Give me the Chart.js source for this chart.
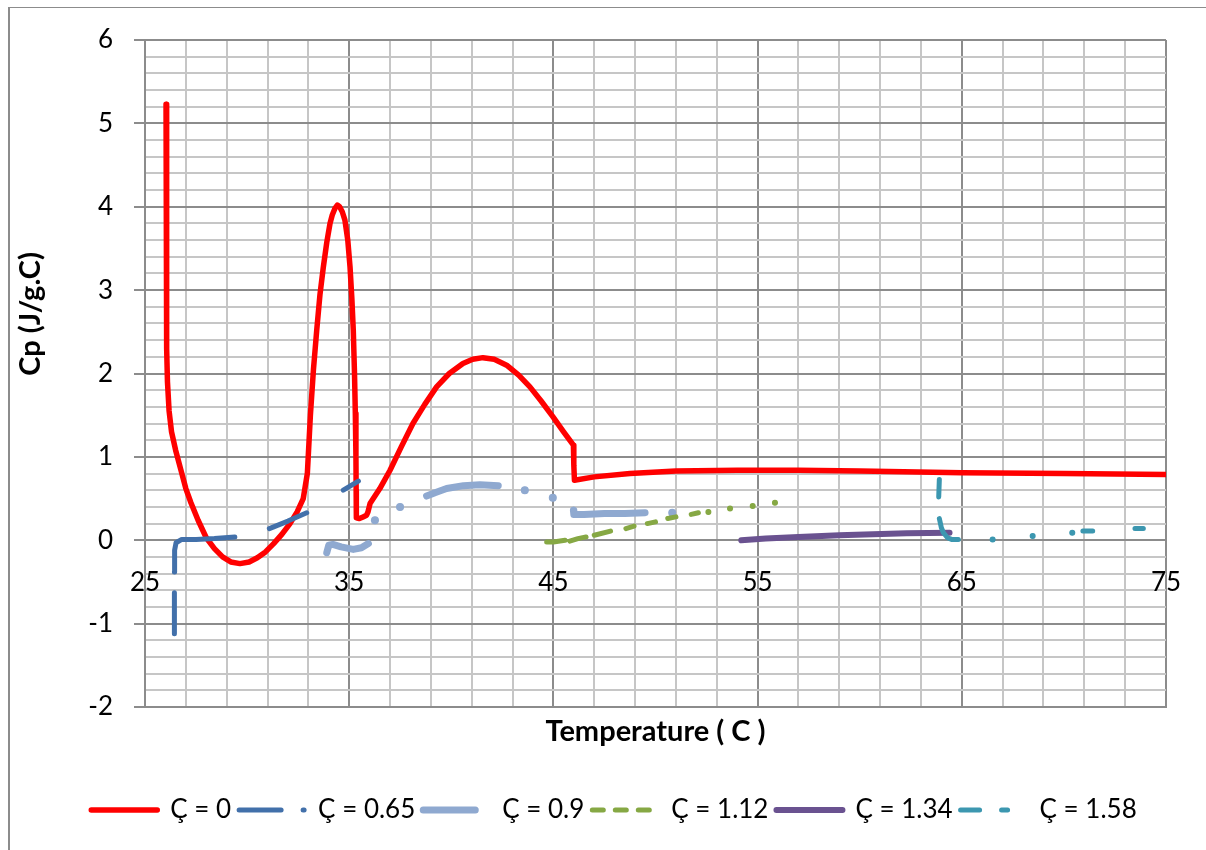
<!DOCTYPE html>
<html>
<head>
<meta charset="utf-8">
<title>Cp vs Temperature</title>
<script src="https://cdn.jsdelivr.net/npm/chart.js@4.4.1/dist/chart.umd.min.js"></script>
<style>
	html, body { margin: 0; padding: 0; background: #fff; }
	#wrap { position: relative; width: 1206px; height: 850px; overflow: hidden; }
	#frame { position: absolute; left: 8px; top: 7px; right: -2px; bottom: -2px; border-left: 2px solid #8c8c8c; border-top: 1px solid #8c8c8c; }
	#cp-canvas { position: absolute; left: 0; top: 0; }
</style>
</head>
<body>
<div id="wrap">
	<div id="frame"></div>
	<canvas id="cp-canvas" width="1206" height="850"></canvas>
</div>
<script>
"use strict";

var FONT = 'Lato';

// axis ticks
var xMajor = [25, 35, 45, 55, 65, 75];
var yMajor = [-2, -1, 0, 1, 2, 3, 4, 5, 6];
var xMinorStep = 2;
var yMinorStep = 0.2;

var seriesLabels = ['Ç = 0', 'Ç = 0.65', 'Ç = 0.9', 'Ç = 1.12', 'Ç = 1.34', 'Ç = 1.58'];

// Ç = 0
var c0x = [26.03, 26.05, 26.06, 26.07, 26.1, 26.18, 26.3, 26.5, 26.75, 27.0, 27.25, 27.6, 28.0, 28.4, 28.8, 29.2, 29.65, 30.1, 30.5, 30.9,
	31.3, 31.7, 32.1, 32.45, 32.75, 32.95, 33.1, 33.25, 33.41, 33.57, 33.73, 33.9, 34.06, 34.17, 34.3, 34.42, 34.53, 34.66, 34.79, 34.93,
	35.04, 35.13, 35.2, 35.26, 35.3, 35.33, 35.34, 35.35, 35.5, 35.68, 35.85, 35.92, 36.02, 36.5, 37.0, 37.55, 38.12, 38.7, 39.28, 39.9,
	40.57, 41.05, 41.55, 42.1, 42.71, 43.3, 43.85, 44.4, 44.98, 45.5, 45.98, 46.0, 46.03, 47.0, 48.75, 51.0, 54.0, 57.0, 60.0, 65.0,
	70.0, 75.0];
var c0y = [5.23, 4.0, 3.0, 2.3, 1.9, 1.55, 1.3, 1.08, 0.85, 0.62, 0.45, 0.24, 0.03, -0.1, -0.2, -0.26, -0.28, -0.26, -0.21, -0.14,
	-0.04, 0.07, 0.2, 0.34, 0.5, 0.8, 1.5, 2.05, 2.52, 2.95, 3.27, 3.57, 3.8, 3.9, 3.98, 4.02, 4.0, 3.94, 3.84, 3.6,
	3.28, 2.9, 2.52, 2.0, 1.52, 1.0, 0.6, 0.27, 0.26, 0.28, 0.3, 0.34, 0.44, 0.62, 0.84, 1.12, 1.4, 1.63, 1.84, 2.0,
	2.12, 2.17, 2.19, 2.17, 2.1, 1.98, 1.84, 1.67, 1.48, 1.3, 1.14, 0.9, 0.72, 0.76, 0.8, 0.83, 0.84, 0.84, 0.83, 0.81,
	0.8, 0.79];

// Ç = 0.65
var c1x = [26.44, 26.44, null, 26.44, 26.45, 26.52, 26.8, 27.5, 28.4, 29.4, null, 31.09, 32.0, 32.92, null, 34.71, 35.45];
var c1y = [-1.12, -0.63, null, -0.38, -0.12, -0.03, 0.01, 0.01, 0.02, 0.04, null, 0.14, 0.23, 0.33, null, 0.6, 0.71];

// Ç = 0.9
var c2x = [33.9, 34.0, 34.2, 34.6, 35.2, 35.6, 35.94, null, 36.26, null, 37.49, null, 38.79, 39.2, 39.77, 40.6, 41.4, 42.3, null,
	43.6, null, 44.97, null, 45.98, 46.0, 46.5, 47.5, 48.5, 49.49, null, 50.82];
var c2y = [-0.15, -0.06, -0.05, -0.08, -0.11, -0.09, -0.04, null, 0.24, null, 0.4, null, 0.53, 0.57, 0.62, 0.655, 0.665, 0.655, null,
	0.6, null, 0.51, null, 0.36, 0.31, 0.31, 0.32, 0.32, 0.33, null, 0.33];

// Ç = 1.12
var c3x = [44.67, 45.0, 45.57, null, 45.8, 46.2, 46.6, null, 47.0, 47.8, null, 48.55, 48.95, null, 49.6, 50.0, null, 50.6, 51.0, null,
	51.75, 52.1, null, 52.59, null, 53.65, null, 54.76, null, 55.85];
var c3y = [-0.02, -0.02, 0.0, null, -0.01, 0.02, 0.04, null, 0.06, 0.11, null, 0.14, 0.17, null, 0.2, 0.22, null, 0.26, 0.28, null,
	0.31, 0.33, null, 0.34, null, 0.38, null, 0.41, null, 0.45];

// Ç = 1.34
var c4x = [54.2, 55.4, 57.0, 59.0, 62.3, 64.4];
var c4y = [0.0, 0.02, 0.04, 0.06, 0.085, 0.09];

// Ç = 1.58
var c5x = [63.9, 63.87, null, 63.9, 64.0, 64.1, 64.3, 64.5, 64.83, null, 66.51, null, 68.47, null, 70.41, null, 70.93, 71.41, null, 73.48, 73.89];
var c5y = [0.73, 0.52, null, 0.26, 0.15, 0.09, 0.03, 0.01, 0.01, null, 0.01, null, 0.05, null, 0.09, null, 0.11, 0.11, null, 0.14, 0.14];

var seriesX = [c0x, c1x, c2x, c3x, c4x, c5x];
var seriesY = [c0y, c1y, c2y, c3y, c4y, c5y];

var seriesColors = ['#ff0000', '#4270aa', '#8fa9d0', '#86a844', '#6a5290', '#3c97b0'];
var seriesWidths = [5.5, 5, 7, 5, 6, 5];
var legendDashes = [[], [42, 22, 1, 40], [52, 40], [11, 12], [], [19, 22, 6, 40]];

var MAJOR = '#8c8c8c';
var MINOR = '#c6c6c6';

function toPoints(xs, ys) {
	return xs.map(function (x, i) { return { x: x, y: ys[i] }; });
}

function isolated(data, i) {
	var prev = data[i - 1], next = data[i + 1];
	return data[i].y !== null && (!prev || prev.y === null) && (!next || next.y === null);
}

function steps(from, to, step) {
	var out = [];
	var n = Math.round((to - from) / step);
	for (var k = 0; k <= n; k++) out.push({ value: +(from + k * step).toFixed(4) });
	return out;
}

function isMajorY(v) { return yMajor.indexOf(Math.round(v)) >= 0 && Math.abs(v - Math.round(v)) < 1e-6; }
function isMajorX(v) { return xMajor.indexOf(v) >= 0; }

var datasets = seriesLabels.map(function (label, i) {
	var w = seriesWidths[i];
	return {
		label: label,
		data: toPoints(seriesX[i], seriesY[i]),
		showLine: true,
		borderColor: seriesColors[i],
		backgroundColor: seriesColors[i],
		borderWidth: w,
		borderCapStyle: 'round',
		borderJoinStyle: 'round',
		tension: 0,
		spanGaps: false,
		order: seriesLabels.length - i,
		pointBorderWidth: 0,
		pointBackgroundColor: seriesColors[i],
		pointRadius: function (ctx) { return isolated(ctx.dataset.data, ctx.dataIndex) ? w / 2 + 0.5 : 0; },
		pointHoverRadius: 0
	};
});

var yTitle = {
	id: 'yTitle',
	afterDraw: function (chart) {
		var ctx = chart.ctx;
		ctx.save();
		ctx.translate(31, 314);
		ctx.rotate(-Math.PI / 2);
		ctx.font = 'bold 29px ' + FONT;
		ctx.fillStyle = '#000';
		ctx.textAlign = 'center';
		ctx.textBaseline = 'middle';
		ctx.fillText('Cp (J/g.C)', 0, 0);
		ctx.restore();
	}
};

var ctx = document.getElementById('cp-canvas').getContext('2d');

var cpChart = new Chart(ctx, {
	type: 'scatter',
	data: { datasets: datasets },
	plugins: [yTitle],
	options: {
		responsive: false,
		animation: false,
		events: [],
		layout: { padding: { left: 62, right: 40, top: 40, bottom: 17 } },
		scales: {
			x: {
				type: 'linear',
				min: 25,
				max: 75,
				afterBuildTicks: function (scale) { scale.ticks = steps(25, 75, xMinorStep); },
				afterFit: function (scale) { scale.height = 82; },
				ticks: { display: false },
				grid: {
					drawTicks: false,
					lineWidth: 2,
					color: function (c) { return isMajorX(c.tick.value) ? MAJOR : MINOR; }
				},
				border: { color: MAJOR, width: 2 },
				title: {
					display: true,
					text: 'Temperature ( C )',
					color: '#000',
					font: { family: FONT, size: 29, weight: 'bold' },
					padding: { top: 0, bottom: 40 }
				}
			},
			x2: {
				type: 'linear',
				axis: 'x',
				position: { y: 0 },
				min: 25,
				max: 75,
				afterBuildTicks: function (scale) { scale.ticks = xMajor.map(function (v) { return { value: v }; }); },
				ticks: { autoSkip: false, padding: 19, color: '#000', font: { family: FONT, size: 26 } },
				grid: { display: false },
				border: { display: true, color: MAJOR, width: 2 }
			},
			y: {
				type: 'linear',
				min: -2,
				max: 6,
				afterBuildTicks: function (scale) { scale.ticks = steps(-2, 6, yMinorStep); },
				afterFit: function (scale) { scale.width = 83; },
				ticks: {
					autoSkip: false,
					padding: 21,
					color: '#000',
					font: { family: FONT, size: 26 },
					callback: function (v) { return isMajorY(v) ? String(Math.round(v)) : ''; }
				},
				grid: {
					lineWidth: 2,
					tickLength: 11,
					color: function (c) { return isMajorY(c.tick.value) ? MAJOR : MINOR; },
					tickColor: function (c) { return isMajorY(c.tick.value) ? MAJOR : 'rgba(0,0,0,0)'; }
				},
				border: { color: MAJOR, width: 2 }
			}
		},
		plugins: {
			tooltip: { enabled: false },
			legend: {
				position: 'bottom',
				labels: {
					usePointStyle: true,
					pointStyleWidth: 66,
					padding: 8,
					color: '#000',
					font: { family: FONT, size: 26 },
					generateLabels: function (chart) {
						return chart.data.datasets.map(function (ds, i) {
							return {
								text: ds.label,
								datasetIndex: i,
								fillStyle: seriesColors[i],
								strokeStyle: seriesColors[i],
								fontColor: '#000',
								lineWidth: seriesWidths[i],
								lineDash: legendDashes[i],
								lineCap: 'round',
								pointStyle: 'line',
								rotation: 180,
								hidden: false
							};
						});
					}
				}
			}
		}
	}
});
</script>
</body>
</html>
